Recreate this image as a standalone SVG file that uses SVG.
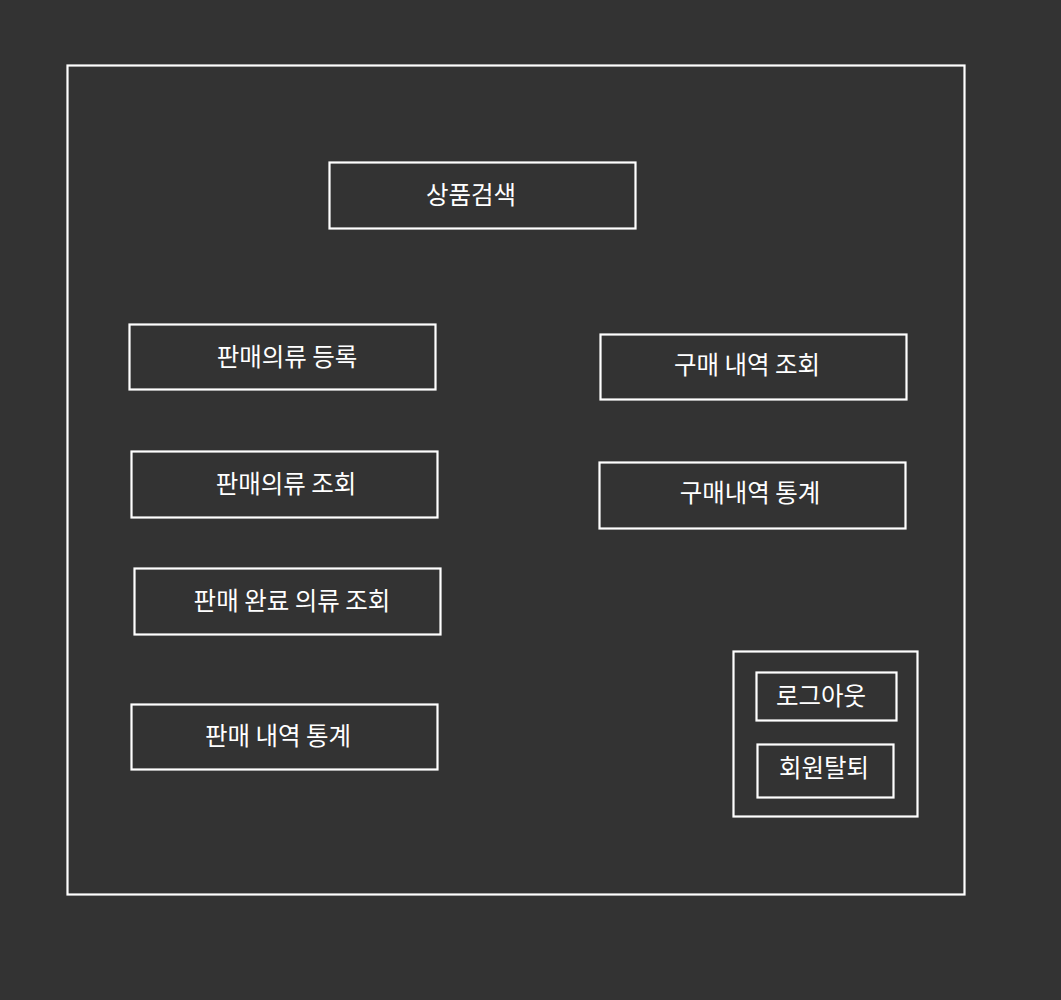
<svg xmlns="http://www.w3.org/2000/svg" width="1061" height="1000" viewBox="0 0 1061 1000">
<style>
.b{fill:none;stroke:#ffffff;stroke-width:2.2}
.t{fill:#ffffff;font-family:"Noto Sans CJK KR","Noto Sans",sans-serif;font-size:24.5px;text-anchor:middle;dominant-baseline:central}
</style>
<rect x="0" y="0" width="1061" height="1000" fill="#333333"/>
<g id="frame"><rect class="b" x="67.5" y="65.5" width="897" height="829"/></g>
<g id="n-search"><rect class="b" x="329.5" y="162.5" width="306" height="66"/><text class="t" x="471" y="193">상품검색</text></g>
<g id="n-sell-register"><rect class="b" x="129.5" y="324.5" width="306" height="65"/><text class="t" x="287" y="355">판매의류 등록</text></g>
<g id="n-buy-history"><rect class="b" x="600.5" y="334.5" width="306" height="65"/><text class="t" x="747" y="363">구매 내역 조회</text></g>
<g id="n-sell-view"><rect class="b" x="131.5" y="451.5" width="306" height="66"/><text class="t" x="286" y="482">판매의류 조회</text></g>
<g id="n-buy-stats"><rect class="b" x="599.5" y="462.5" width="306" height="66"/><text class="t" x="750" y="491">구매내역 통계</text></g>
<g id="n-sold-view"><rect class="b" x="134.5" y="568.5" width="306" height="66"/><text class="t" x="292" y="599">판매 완료 의류 조회</text></g>
<g id="n-sell-stats"><rect class="b" x="131.5" y="704.5" width="306" height="65"/><text class="t" x="278" y="734">판매 내역 통계</text></g>
<g id="n-account"><rect class="b" x="733.5" y="651.5" width="184" height="165"/></g>
<g id="n-logout"><rect class="b" x="756.5" y="672.5" width="140" height="48"/><text class="t" x="821" y="694">로그아웃</text></g>
<g id="n-withdraw"><rect class="b" x="757.5" y="744.5" width="136" height="53"/><text class="t" x="824" y="766">회원탈퇴</text></g>
<g id="connectors"></g>
</svg>
